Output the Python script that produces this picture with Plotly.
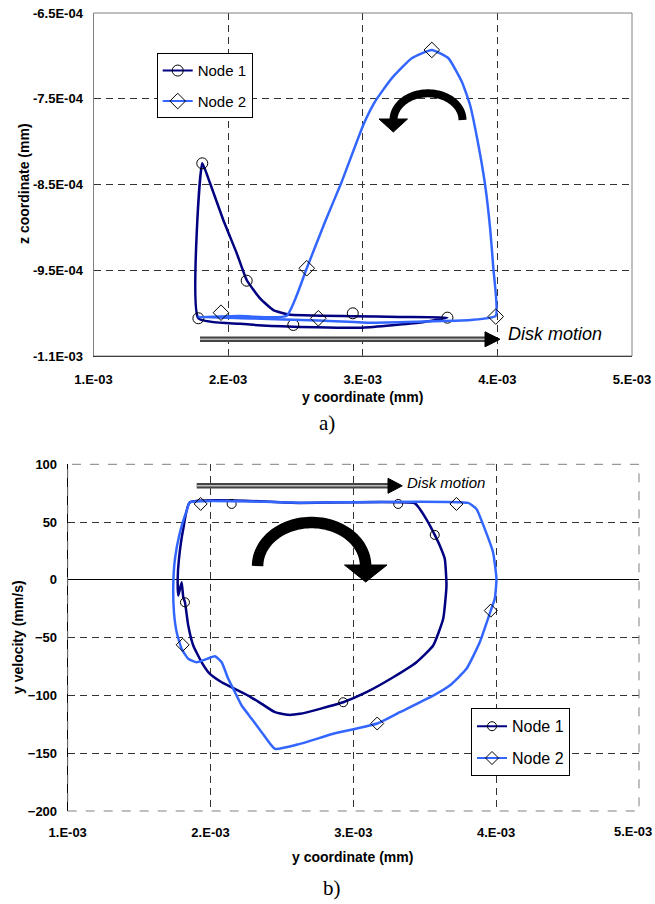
import numpy as np
import plotly.graph_objects as go

W, H = 655, 904

# ---------------- data: panel a) (y coordinate vs z coordinate, mm) ----------------
n1a_line_y = [1.779e-3, 1.808e-3, 1.866e-3, 1.964e-3, 2.064e-3, 2.138e-3, 2.237e-3, 2.336e-3, 2.447e-3,
              2.926e-3, 3.277e-3, 3.629e-3, 3.426e-3, 3.000e-3, 2.484e-3, 2.088e-3, 1.779e-3]
n1a_line_z = [-10.060e-4, -8.253e-4, -8.486e-4, -8.914e-4, -9.302e-4, -9.614e-4, -9.827e-4, -9.964e-4, -10.015e-4,
              -10.035e-4, -10.045e-4, -10.053e-4, -10.110e-4, -10.170e-4, -10.158e-4, -10.125e-4, -10.060e-4]
n1a_mark_y = [1.779e-3, 1.808e-3, 2.138e-3, 2.484e-3, 2.926e-3, 3.629e-3]
n1a_mark_z = [-10.060e-4, -8.253e-4, -9.622e-4, -10.138e-4, -10.002e-4, -10.053e-4]

n2a_line_y = [1.776e-3, 2.088e-3, 2.435e-3, 2.584e-3, 2.720e-3, 2.844e-3, 3.004e-3, 3.091e-3, 3.215e-3,
              3.364e-3, 3.513e-3, 3.636e-3, 3.736e-3, 3.797e-3, 3.859e-3, 3.909e-3, 3.946e-3, 3.970e-3,
              3.988e-3, 3.800e-3, 3.400e-3, 3.050e-3, 2.668e-3, 2.163e-3, 1.776e-3]
n2a_line_z = [-10.045e-4, -10.034e-4, -10.030e-4, -9.477e-4, -8.934e-4, -8.467e-4, -7.806e-4, -7.534e-4, -7.262e-4,
              -7.028e-4, -6.931e-4, -7.028e-4, -7.301e-4, -7.573e-4, -8.039e-4, -8.506e-4, -9.011e-4, -9.477e-4,
              -10.030e-4, -10.080e-4, -10.100e-4, -10.112e-4, -10.086e-4, -10.062e-4, -10.045e-4]
n2a_mark_y = [1.947e-3, 2.584e-3, 2.670e-3, 3.513e-3, 3.988e-3]
n2a_mark_z = [-9.995e-4, -9.477e-4, -10.060e-4, -6.931e-4, -10.040e-4]

# ---------------- data: panel b) (y coordinate vs y velocity) ----------------
n1b_line_y = [1.856e-3, 2.626e-3, 3.430e-3, 3.465e-3, 3.524e-3, 3.570e-3, 3.605e-3, 3.640e-3, 3.652e-3, 3.629e-3,
              3.559e-3, 3.442e-3, 3.279e-3, 3.092e-3, 2.929e-3, 2.766e-3, 2.626e-3, 2.544e-3, 2.451e-3, 2.358e-3,
              2.264e-3, 2.171e-3, 2.078e-3, 1.996e-3, 1.938e-3, 1.879e-3, 1.844e-3, 1.821e-3, 1.809e-3, 1.798e-3,
              1.774e-3, 1.770e-3, 1.779e-3, 1.809e-3, 1.856e-3]
n1b_line_v = [67.1, 66.6, 66.3, 61.4, 49.8, 38.9, 29.7, 18.2, -4.9, -33.7,
              -56.8, -71.3, -84.3, -97.2, -105.9, -111.6, -115.9, -116.8, -114.5, -107.3,
              -100.1, -94.3, -88.6, -81.4, -71.3, -56.8, -39.5, -19.4, -15.0, -2.1,
              -13.6, 0.9, 18.2, 44.1, 67.1]
n1b_mark_y = [2.148e-3, 3.314e-3, 3.570e-3, 2.929e-3, 1.821e-3]
n1b_mark_v = [65.7, 65.7, 38.9, -105.9, -19.4]

n2b_line_y = [1.856e-3, 2.626e-3, 3.803e-3, 3.862e-3, 3.920e-3, 3.978e-3, 4.002e-3, 3.990e-3, 3.962e-3, 3.885e-3,
              3.792e-3, 3.675e-3, 3.559e-3, 3.325e-3, 3.167e-3, 2.859e-3, 2.626e-3, 2.451e-3, 2.358e-3, 2.288e-3,
              2.218e-3, 2.171e-3, 2.124e-3, 2.078e-3, 2.031e-3, 1.961e-3, 1.903e-3, 1.844e-3, 1.798e-3, 1.763e-3,
              1.744e-3, 1.739e-3, 1.751e-3, 1.786e-3, 1.833e-3, 1.856e-3]
n2b_line_v = [67.1, 66.8, 66.6, 61.4, 44.1, 23.9, 0.9, -16.4, -26.6, -54.0,
              -77.0, -91.4, -100.1, -114.5, -124.3, -133.2, -141.9, -146.2, -131.8, -120.2,
              -108.7, -97.2, -85.6, -71.3, -66.1, -69.0, -71.3, -68.3, -59.7, -45.3,
              -28.0, -4.9, 18.2, 41.2, 59.9, 67.1]
n2b_mark_y = [1.931e-3, 3.722e-3, 3.962e-3, 3.167e-3, 1.805e-3]
n2b_mark_v = [65.7, 65.7, -26.6, -124.3, -56.2]

# ---------------- ticks ----------------
x_tickvals = [1e-3, 2e-3, 3e-3, 4e-3, 5e-3]
x_ticktext = ["1.E-03", "2.E-03", "3.E-03", "4.E-03", "5.E-03"]
za_tickvals = [-6.5e-4, -7.5e-4, -8.5e-4, -9.5e-4, -10.5e-4]
za_ticktext = ["-6.5E-04", "-7.5E-04", "-8.5E-04", "-9.5E-04", "-1.1E-03"]
vb_tickvals = [100, 50, 0, -50, -100, -150, -200]

NAVY = "#000080"
LBLUE = "#3366FF"
FONT = "Liberation Sans, Arial, sans-serif"

def px(x):
    return x / W

def py(y):
    return 1 - y / H

fig = go.Figure()

def add_series(xl, yl, xm, ym, color, symbol, msize, xa, ya):
    fig.add_trace(go.Scatter(x=xl, y=yl, mode="lines", line=dict(color=color, width=2.5, shape="spline", smoothing=0.45),
                             xaxis=xa, yaxis=ya, showlegend=False, hoverinfo="skip"))
    fig.add_trace(go.Scatter(x=xm, y=ym, mode="markers",
                             marker=dict(symbol=symbol, size=msize, color="black", line=dict(color="black", width=1)),
                             xaxis=xa, yaxis=ya, showlegend=False, hoverinfo="skip"))

add_series(n1a_line_y, n1a_line_z, n1a_mark_y, n1a_mark_z, NAVY, "circle-open", 11, "x", "y")
add_series(n2a_line_y, n2a_line_z, n2a_mark_y, n2a_mark_z, LBLUE, "diamond-open", 12, "x", "y")
add_series(n1b_line_y, n1b_line_v, n1b_mark_y, n1b_mark_v, NAVY, "circle-open", 9, "x2", "y2")
add_series(n2b_line_y, n2b_line_v, n2b_mark_y, n2b_mark_v, LBLUE, "diamond-open", 10, "x2", "y2")

# legend entries
for i, (name, color, sym, lg, sz) in enumerate([("Node 1", NAVY, "circle-open", "legend", 11),
                                                ("Node 2", LBLUE, "diamond-open", "legend", 12),
                                                ("Node 1", NAVY, "circle-open", "legend2", 9),
                                                ("Node 2", LBLUE, "diamond-open", "legend2", 10)]):
    fig.add_trace(go.Scatter(x=[None], y=[None], name=name, mode="lines+markers",
                             line=dict(color=color, width=2),
                             marker=dict(symbol=sym, size=sz, color="black"),
                             xaxis="x" if lg == "legend" else "x2", yaxis="y" if lg == "legend" else "y2",
                             legend=lg, legendgroup=f"g{i}", showlegend=True))

tickfont = dict(family=FONT, size=13, color="black", weight="bold")
grid = dict(showgrid=True, gridcolor="#333333", gridwidth=1, griddash="7px,5px", automargin=False)

fig.update_layout(
    width=W, height=H, autosize=False,
    margin=dict(l=0, r=0, t=0, b=0, autoexpand=False),
    paper_bgcolor="white", plot_bgcolor="white",
    xaxis=dict(domain=[px(93.5), px(632)], range=[1e-3, 5e-3], tickvals=x_tickvals, ticktext=x_ticktext,
               tickfont=tickfont, showline=True, linecolor="black", linewidth=1, zeroline=False,
               ticks="", ticklabelstandoff=11, anchor="y", **grid),
    yaxis=dict(domain=[py(356), py(13)], range=[-10.5e-4, -6.5e-4], tickvals=za_tickvals, ticktext=za_ticktext,
               tickfont=tickfont, showline=True, linecolor="black", linewidth=1, zeroline=False,
               ticks="", ticklabelstandoff=7, anchor="x", **grid),
    xaxis2=dict(domain=[px(67.7), px(639)], range=[1e-3, 5e-3], tickvals=x_tickvals[:-1], ticktext=x_ticktext[:-1],
                tickfont=tickfont, showline=False, zeroline=False,
                ticks="", ticklabelstandoff=12, anchor="y2", **grid),
    yaxis2=dict(domain=[py(811), py(464.3)], range=[-200, 100], tickvals=vb_tickvals,
                tickfont=tickfont, showline=True, linecolor="black", linewidth=1,
                zeroline=True, zerolinecolor="black", zerolinewidth=1.2,
                ticks="", ticklabelstandoff=7, anchor="x2", **grid),
    legend=dict(x=px(156.7), y=py(53.3), xanchor="left", yanchor="top", bgcolor="white",
                bordercolor="black", borderwidth=1, font=dict(family=FONT, size=15, color="black"),
                itemwidth=30, tracegroupgap=8),
    legend2=dict(x=px(471), y=py(708.3), xanchor="left", yanchor="top", bgcolor="white",
                 bordercolor="black", borderwidth=1, font=dict(family=FONT, size=16, color="black"),
                 itemwidth=30, tracegroupgap=8),
)

shapes = []
# plot frames
shapes.append(dict(type="rect", xref="paper", yref="paper", x0=px(93.5), x1=px(632), y0=py(356), y1=py(13),
                   line=dict(color="#808080", width=1)))
shapes.append(dict(type="rect", xref="paper", yref="paper", x0=px(67.7), x1=px(639), y0=py(811), y1=py(464.3),
                   line=dict(color="#808080", width=1, dash="dash")))

def arc_path(cx, cy, rx, ry):
    t = np.linspace(0, np.pi, 60)
    pts = [(cx + rx * np.cos(a), cy - ry * np.sin(a)) for a in t]
    return "M " + " L ".join(f"{px(x):.5f},{py(y):.5f}" for x, y in pts)

def tri_path(p1, p2, p3):
    return "M {:.5f},{:.5f} L {:.5f},{:.5f} L {:.5f},{:.5f} Z".format(px(p1[0]), py(p1[1]), px(p2[0]), py(p2[1]), px(p3[0]), py(p3[1]))

# curved arrow, panel a (counter-clockwise)
shapes.append(dict(type="path", xref="paper", yref="paper", path=arc_path(428, 120, 34.5, 26.7),
                   line=dict(color="black", width=8)))
shapes.append(dict(type="path", xref="paper", yref="paper", path=tri_path((379, 119), (407.5, 119), (393.3, 132)),
                   fillcolor="black", line=dict(color="black", width=1)))
# curved arrow, panel b (clockwise)
shapes.append(dict(type="path", xref="paper", yref="paper", path=arc_path(311.6, 566, 54, 43.5),
                   line=dict(color="black", width=11.5)))
shapes.append(dict(type="path", xref="paper", yref="paper", path=tri_path((344.5, 565), (387, 565), (365.7, 582)),
                   fillcolor="black", line=dict(color="black", width=1)))

# disk motion double arrows
def disk_arrow(x0, x1, y, tip):
    out = []
    out.append(dict(type="line", xref="paper", yref="paper", x0=px(x0), x1=px(x1), y0=py(y), y1=py(y),
                    line=dict(color="#444444", width=5.5)))
    out.append(dict(type="line", xref="paper", yref="paper", x0=px(x0), x1=px(x1), y0=py(y), y1=py(y),
                    line=dict(color="#bbbbbb", width=1.5)))
    out.append(dict(type="path", xref="paper", yref="paper",
                    path=tri_path((x1, y - 7.5), (x1, y + 7.5), (tip, y)),
                    fillcolor="black", line=dict(color="black", width=1)))
    return out

shapes += disk_arrow(200, 485, 339.3, 500)
shapes += disk_arrow(196.7, 388, 485.8, 402.3)
fig.update_layout(shapes=shapes)

title_font = dict(family=FONT, size=14, color="black", weight="bold")
ann = [
    dict(text="z coordinate (mm)", x=px(24), y=py(184), textangle=-90, font=title_font),
    dict(text="y coordinate (mm)", x=px(362.5), y=py(396.7), font=title_font),
    dict(text="a)", x=px(327), y=py(423), font=dict(family="Liberation Serif, Times New Roman, serif", size=21, color="black")),
    dict(text="y velocity (mm/s)", x=px(18), y=py(637), textangle=-90, font=title_font),
    dict(text="y coordinate (mm)", x=px(352.5), y=py(856.7), font=title_font),
    dict(text="b)", x=px(332), y=py(888), font=dict(family="Liberation Serif, Times New Roman, serif", size=21, color="black")),
    dict(text="<i>Disk motion</i>", x=px(506), y=py(334), xanchor="left",
         font=dict(family=FONT, size=18, color="black")),
    dict(text="<i>Disk motion</i>", x=px(405.5), y=py(482.7), xanchor="left",
         font=dict(family=FONT, size=15, color="black")),
    dict(text=x_ticktext[-1], x=px(654), y=py(831.7), xanchor="right", font=tickfont),
]
for a in ann:
    a.setdefault("xanchor", "center")
    a.update(xref="paper", yref="paper", yanchor="middle", showarrow=False)
fig.update_layout(annotations=ann)

fig.write_html("out.html", config={"displayModeBar": False},
               post_script="document.body.style.margin='0';document.body.style.overflow='hidden';")
